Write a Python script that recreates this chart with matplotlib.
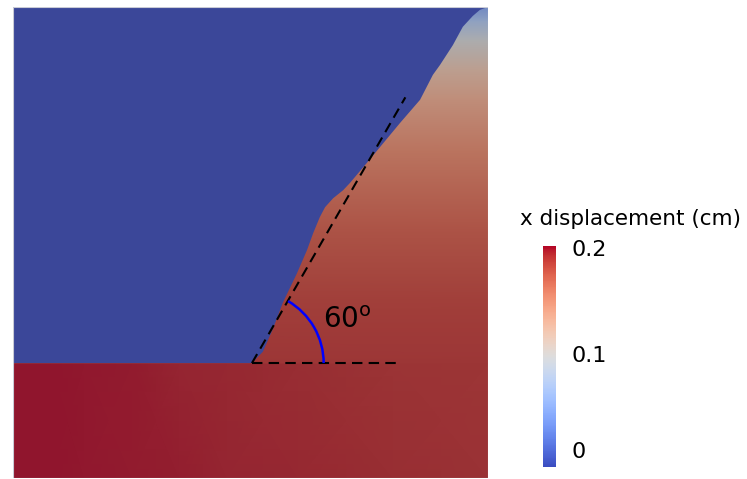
import matplotlib
matplotlib.use('Agg')
import matplotlib.pyplot as plt
import numpy as np
from matplotlib.colors import LinearSegmentedColormap, Normalize
from matplotlib.patches import Polygon, Arc
from matplotlib.cm import ScalarMappable

# 界面与裂纹（域归一化到 0..1）
interface_y = 0.244
apex_x = 0.503
crack_angle = 60
crack_x = [0.503, 0.526, 0.547, 0.568, 0.598, 0.619, 0.632, 0.646, 0.657, 0.674, 0.695,
           0.709, 0.745, 0.815, 0.857, 0.884, 0.899, 0.926, 0.947, 0.968, 0.983, 1.0]
crack_y = [0.244, 0.268, 0.316, 0.372, 0.435, 0.484, 0.520, 0.554, 0.575, 0.594, 0.611,
           0.626, 0.669, 0.754, 0.803, 0.856, 0.877, 0.919, 0.958, 0.981, 0.994, 1.0]

# 上部楔形区 x 位移 (cm)，沿高度
wedge_y = [0.244, 0.378, 0.527, 0.696, 0.803, 0.866, 0.930, 0.972, 1.0]
wedge_val = [0.190, 0.186, 0.176, 0.157, 0.138, 0.122, 0.098, 0.070, 0.045]

# 下部基体 x 位移 (cm)，沿宽度
bottom_x = [0.0, 0.08, 0.15, 0.25, 0.35, 0.45, 0.6, 0.8, 1.0]
bottom_val_base = [0.200, 0.200, 0.199, 0.198, 0.197, 0.196, 0.195, 0.193, 0.192]
bottom_val_top = [0.200, 0.200, 0.199, 0.198, 0.196, 0.195, 0.193, 0.191, 0.190]
upper_val = 0.0

vmin, vmax = 0.0, 0.2
cbar_ticks = [0.2, 0.1, 0.0]
cbar_labels = ['0.2', '0.1', '0']
cbar_title = 'x displacement (cm)'

# 画面带光照，颜色偏暗
base = plt.get_cmap('coolwarm')(np.linspace(0, 1, 256))[:, :3]
field_cmap = LinearSegmentedColormap.from_list('shaded', base * 0.7 + 18 / 255)
norm = Normalize(vmin, vmax)

fig = plt.figure(figsize=(7.47, 4.79), dpi=100)
ax = fig.add_axes([13 / 747, 1 / 479, 475 / 747, 471 / 479])
ax.set_xlim(0, 1)
ax.set_ylim(0, 1)
ax.axis('off')
ky = 475 / 471  # 纵横像素比

# 下部
bx, by = np.meshgrid(bottom_x, [0, interface_y])
bc = np.array([bottom_val_base, bottom_val_top])
ax.pcolormesh(bx, by, bc, shading='gouraud', cmap=field_cmap, norm=norm)

# 上部楔形
wx, wy = np.meshgrid([0, 1], wedge_y)
wc = np.repeat(np.array(wedge_val)[:, None], 2, axis=1)
ax.pcolormesh(wx, wy, wc, shading='gouraud', cmap=field_cmap, norm=norm)

# 上部左侧（位移为 0）
verts = [(0, interface_y)] + list(zip(crack_x, crack_y)) + [(0, 1)]
ax.add_patch(Polygon(verts, closed=True, facecolor=field_cmap(norm(upper_val)),
                     edgecolor='none', zorder=3))

# 边框
ax.plot([0, 1, 1, 0, 0], [0, 0, 1, 1, 0], color='#c9cbd6', lw=0.8, zorder=4)

# 60 度辅助线
th = np.deg2rad(crack_angle)
L1, L2 = 0.316, 0.646
ax.plot([apex_x, apex_x + L1], [interface_y, interface_y], color='black', lw=1.5,
        dashes=(5, 3), zorder=5)
ax.plot([apex_x, apex_x + L2 * np.cos(th)], [interface_y, interface_y + L2 * np.sin(th) * ky],
        color='black', lw=1.5, dashes=(5, 3), zorder=5)
r = 0.151
ax.add_patch(Arc((apex_x, interface_y), 2 * r, 2 * r * ky, theta1=0, theta2=crack_angle,
                 color='blue', lw=1.8, zorder=6))
ax.text(0.652, 0.318, r'%d$^{\mathrm{o}}$' % crack_angle, fontsize=20, color='black',
        ha='left', va='baseline', zorder=7)

# 色标
cax = fig.add_axes([543 / 747, 12 / 479, 13 / 747, 221 / 479])
cb = fig.colorbar(ScalarMappable(norm=norm, cmap='coolwarm'), cax=cax)
cb.outline.set_visible(False)
cb.set_ticks([])
label_y = {0.2: 0.982, 0.1: 0.5, 0.0: 0.068}
for t, lab in zip(cbar_ticks, cbar_labels):
    cax.text(2.2, label_y[t], lab, transform=cax.transAxes, fontsize=16,
             ha='left', va='center')
fig.text(520 / 747, 1 - 219 / 479, cbar_title, fontsize=15.5, ha='left', va='center')

fig.savefig('out.png', dpi=100)
